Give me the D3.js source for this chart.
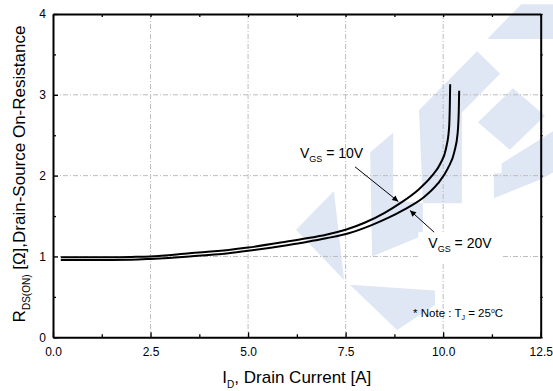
<!DOCTYPE html>
<html>
<head>
<meta charset="UTF-8">
<script src="https://d3js.org/d3.v7.min.js"></script>
<style>
    body { margin: 0; background: #fff; }
    svg { display: block; font-family: Arial, "Liberation Sans", sans-serif; }
    .grid line { stroke: #bdbdbd; stroke-width: 1px; stroke-dasharray: 5,2,1,2; }
    .axis path { stroke: #000; stroke-width: 2px; }
    .axis line { stroke: #000; stroke-width: 1.3px; }
    .axis text { font-size: 12px; fill: #000; font-family: Arial, "Liberation Sans", sans-serif; }
</style>
</head>
<body>
<div id="chart"></div>
<script>
// drain current [A] and on-resistance [ohm]
const id10 = [0.2, 1.0, 2.0, 2.5, 3.5, 4.5, 5.0, 6.0, 6.5, 7.0, 7.5, 8.0, 8.5, 8.9, 9.35, 9.7, 9.93, 10.07, 10.15, 10.17, 10.18];
const r10  = [0.99, 0.99, 0.995, 1.0, 1.04, 1.08, 1.11, 1.185, 1.225, 1.27, 1.33, 1.42, 1.54, 1.66, 1.82, 1.99, 2.15, 2.33, 2.58, 2.85, 3.13];
const id20 = [0.2, 1.0, 2.0, 2.5, 3.5, 4.5, 5.0, 6.0, 6.5, 7.0, 7.6, 8.15, 8.6, 9.0, 9.47, 9.86, 10.12, 10.29, 10.37, 10.40, 10.41];
const r20  = [0.955, 0.955, 0.96, 0.97, 1.0, 1.04, 1.07, 1.14, 1.18, 1.225, 1.29, 1.385, 1.48, 1.58, 1.72, 1.90, 2.09, 2.30, 2.52, 2.80, 3.05];

const xTicks = [0, 2.5, 5, 7.5, 10, 12.5];
const xMinor = [1.25, 3.75, 6.25, 8.75, 11.25];
const yTicks = [0, 1, 2, 3, 4];
const yMinor = [0.5, 1.5, 2.5, 3.5];

// annotations in data units: label anchor, arrow tail -> tip
const lab10 = {x: 6.33, y: 2.215, tail: [7.74, 2.11], tip: [8.85, 1.68]};
const lab20 = {x: 9.62, y: 1.105, tail: [9.77, 1.30], tip: [9.15, 1.57]};
const note = {x: 9.23, y: 0.255};

// faint logo watermark (data units)
const watermark = [
    [[11.13, 3.69], [12.0, 4.12], [12.82, 4.12], [12.82, 3.69]],
    [[9.38, 2.81], [10.87, 3.54], [11.46, 3.26], [10.48, 2.78], [10.48, 1.66], [9.48, 1.66]],
    [[10.89, 2.66], [11.79, 3.08], [12.61, 2.74], [11.71, 2.32]],
    [[11.5, 2.15], [12.82, 2.55], [12.82, 2.04], [12.48, 1.95], [11.3, 1.72], [11.3, 2.03], [11.5, 2.03]],
    [[8.13, 2.29], [8.72, 2.53], [8.72, 1.70], [9.48, 1.66], [9.48, 1.26], [8.18, 1.0]],
    [[6.23, 1.33], [7.2, 1.81], [7.46, 0.71]],
    [[7.61, 0.65], [9.79, 0.58], [9.79, 0.40], [8.82, 0.09]]
];

const W = 553, H = 391;
const margin = {top: 14, right: 12.3, bottom: 53.7, left: 53};
const width = W - margin.left - margin.right,
      height = H - margin.top - margin.bottom;

const svg = d3.select("#chart").append("svg")
    .attr("width", W).attr("height", H);
const g = svg.append("g").attr("transform", `translate(${margin.left},${margin.top})`);

const x = d3.scaleLinear().domain([0, 12.5]).range([0, width]);
const y = d3.scaleLinear().domain([0, 4]).range([height, 0]);

// watermark
g.selectAll(".wm").data(watermark).enter().append("polygon")
    .attr("points", d => d.map(p => [x(p[0]), y(p[1])].join(",")).join(" "))
    .attr("fill", "#dfe6f4");

// grid
g.append("g").attr("class", "grid")
    .selectAll("line").data(xTicks.slice(1, -1)).enter().append("line")
    .attr("x1", d => x(d)).attr("x2", d => x(d)).attr("y1", 0).attr("y2", height);
g.append("g").attr("class", "grid")
    .selectAll("line").data(yTicks.slice(1, -1)).enter().append("line")
    .attr("y1", d => y(d)).attr("y2", d => y(d)).attr("x1", 0).attr("x2", width);

function subLabel(sel, main, sub, rest, sfs) {
    sel.append("tspan").text(main);
    sel.append("tspan").attr("font-size", sfs).attr("dy", 4).text(sub);
    sel.append("tspan").attr("dy", -4).text(rest);
    return sel;
}

// white boxes behind the labels
const boxes = g.append("g");

// curves
const line = d3.line().x(d => x(d[0])).y(d => y(d[1])).curve(d3.curveMonotoneX);
const s10 = id10.map((v, i) => [v, r10[i]]);
const s20 = id20.map((v, i) => [v, r20[i]]);
[s10, s20].forEach(s => {
    g.append("path").datum(s).attr("d", line)
        .attr("fill", "none").attr("stroke", "#000").attr("stroke-width", 2);
});

// arrows
svg.append("defs").append("marker")
    .attr("id", "ah").attr("viewBox", "0 0 10 10").attr("refX", 10).attr("refY", 5)
    .attr("markerWidth", 8).attr("markerHeight", 6).attr("markerUnits", "userSpaceOnUse")
    .attr("orient", "auto")
    .append("path").attr("d", "M0,0 L10,5 L0,10 Z").attr("fill", "#000");

[lab10, lab20].forEach(l => {
    g.append("line")
        .attr("x1", x(l.tail[0])).attr("y1", y(l.tail[1]))
        .attr("x2", x(l.tip[0])).attr("y2", y(l.tip[1]))
        .attr("stroke", "#000").attr("stroke-width", 1)
        .attr("marker-end", "url(#ah)");
});

const t10 = g.append("text").attr("x", x(lab10.x)).attr("y", y(lab10.y)).attr("font-size", 14);
subLabel(t10, "V", "GS", " = 10V", 9);
const t20 = g.append("text").attr("x", x(lab20.x)).attr("y", y(lab20.y)).attr("font-size", 14);
subLabel(t20, "V", "GS", " = 20V", 9);

const b20 = t20.node().getBBox();
boxes.append("rect").attr("x", b20.x - 10).attr("y", b20.y - 3)
    .attr("width", b20.width + 20).attr("height", b20.height + 12).attr("fill", "#fff");

const tn = g.append("text").attr("x", x(note.x)).attr("y", y(note.y)).attr("font-size", 11.5);
tn.append("tspan").text("* Note : T");
tn.append("tspan").attr("font-size", 7).attr("dy", 3).text("J");
tn.append("tspan").attr("dy", -3).text(" = 25");
tn.append("tspan").attr("font-size", 7).attr("dy", -4).text("o");
tn.append("tspan").attr("dy", 4).text("C");

// axes
g.append("g").attr("class", "axis")
    .attr("transform", `translate(0,${height})`)
    .call(d3.axisBottom(x).tickValues(xTicks).tickSizeInner(-5).tickSizeOuter(0)
        .tickPadding(10).tickFormat(d3.format(".1f")));
g.append("g").attr("class", "axis")
    .attr("transform", `translate(0,${height})`)
    .call(d3.axisBottom(x).tickValues(xMinor).tickSize(-3).tickFormat(""))
    .select(".domain").remove();
g.append("g").attr("class", "axis")
    .call(d3.axisLeft(y).tickValues(yTicks).tickSizeInner(-5).tickSizeOuter(0)
        .tickPadding(7).tickFormat(d3.format("d")));
g.append("g").attr("class", "axis")
    .call(d3.axisLeft(y).tickValues(yMinor).tickSize(-3).tickFormat(""))
    .select(".domain").remove();
g.append("g").attr("class", "axis")
    .call(d3.axisTop(x).tickValues(xTicks.concat(xMinor)).tickSizeInner(-3).tickSizeOuter(0).tickFormat(""));
g.append("g").attr("class", "axis")
    .attr("transform", `translate(${width},0)`)
    .call(d3.axisRight(y).tickValues(yTicks.concat(yMinor)).tickSizeInner(2).tickSizeOuter(0).tickFormat(""));

// axis titles
const xt = svg.append("text")
    .attr("x", margin.left + width / 2).attr("y", 383)
    .attr("text-anchor", "middle").attr("font-size", 17);
xt.append("tspan").text("I");
xt.append("tspan").attr("font-size", 10).attr("dy", 5).text("D");
xt.append("tspan").attr("dy", -5).text(", Drain Current [A]");

const yt = svg.append("text")
    .attr("transform", "translate(25,174) rotate(-90)")
    .attr("text-anchor", "middle").attr("font-size", 17);
yt.append("tspan").text("R");
yt.append("tspan").attr("font-size", 10).attr("dy", 5).text("DS(ON)");
yt.append("tspan").attr("dy", -5).text(" [Ω],Drain-Source On-Resistance");
</script>
</body>
</html>
